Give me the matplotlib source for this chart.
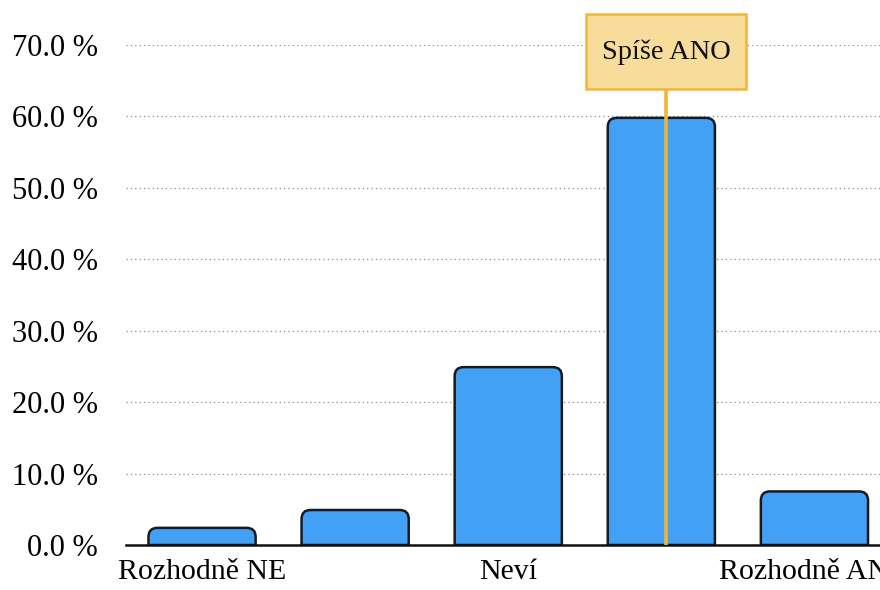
import numpy as np
import matplotlib
matplotlib.use("Agg")
import matplotlib.pyplot as plt
from matplotlib.path import Path
from matplotlib.patches import PathPatch, Rectangle

plt.rcParams['font.family'] = ['Liberation Serif', 'DejaVu Serif']

# answers and their share in percent
categories = ["Rozhodně NE", "Spíše NE", "Neví", "Spíše ANO", "Rozhodně ANO"]
shares = [2.4, 4.9, 24.9, 59.8, 7.5]
yticks = [0, 10, 20, 30, 40, 50, 60, 70]
highlight = 3  # bar with the hover label

bar_color = "#42A0F5"
tip_fill = "#F7DC9C"
tip_edge = "#F0B633"

fig = plt.figure(figsize=(8.8, 5.9), dpi=100)
ax = fig.add_axes([125.5 / 880, 45 / 590, 765.5 / 880, 500 / 590])
ax.set_xlim(-0.5, len(categories) - 0.5)
ax.set_ylim(0, 70)

x = np.arange(len(categories))
width = 0.7

# corner radius in pixels -> data units
px_x = ax.get_position().width * 880 / (len(categories))
px_y = ax.get_position().height * 590 / 70
r = 9
rx, ry = r / px_x, r / px_y


def rounded_bar(c, h):
    l, rr = c - width / 2, c + width / 2
    verts = [(l, 0), (l, h - ry), (l, h), (l + rx, h), (rr - rx, h),
             (rr, h), (rr, h - ry), (rr, 0), (l, 0)]
    codes = [Path.MOVETO, Path.LINETO, Path.CURVE3, Path.CURVE3, Path.LINETO,
             Path.CURVE3, Path.CURVE3, Path.LINETO, Path.CLOSEPOLY]
    return PathPatch(Path(verts, codes), facecolor=bar_color,
                     edgecolor="#1a1a1a", linewidth=1.8, zorder=3)


for xi, v in zip(x, shares):
    ax.add_patch(rounded_bar(xi, v))

# grid and axes styling
ax.set_yticks(yticks)
ax.set_yticklabels([f"{t:.1f} %" for t in yticks])
ax.yaxis.grid(True, linestyle=(0, (1, 2.5)), color="#8a8a8a", linewidth=0.9)
ax.set_axisbelow(True)
for s in ["left", "top", "right"]:
    ax.spines[s].set_visible(False)
ax.spines["bottom"].set_linewidth(1.8)
ax.spines["bottom"].set_color("#111111")
ax.spines["bottom"].set_zorder(4)

ax.set_xticks(x)
ax.set_xticklabels([c if i % 2 == 0 else "" for i, c in enumerate(categories)])
ax.tick_params(axis="y", length=0, pad=20, labelsize=22)
ax.tick_params(axis="x", length=0, pad=10, labelsize=21.5)

# hover label over the highlighted bar
tip_x = x[highlight] + 0.03
box_w, box_bottom, box_top = 1.045, 63.8, 74.3
ax.plot([tip_x, tip_x], [0, box_bottom], color=tip_edge, linewidth=2.6,
        zorder=5, clip_on=False, solid_capstyle="butt")
ax.add_patch(Rectangle((tip_x - box_w / 2, box_bottom), box_w, box_top - box_bottom,
                       facecolor=tip_fill, edgecolor=tip_edge, linewidth=1.8,
                       zorder=6, clip_on=False))
ax.text(tip_x, (box_bottom + box_top) / 2, categories[highlight], ha="center",
        va="center", fontsize=20.5, color="#111111", zorder=7)

fig.savefig("out.png", dpi=100)
